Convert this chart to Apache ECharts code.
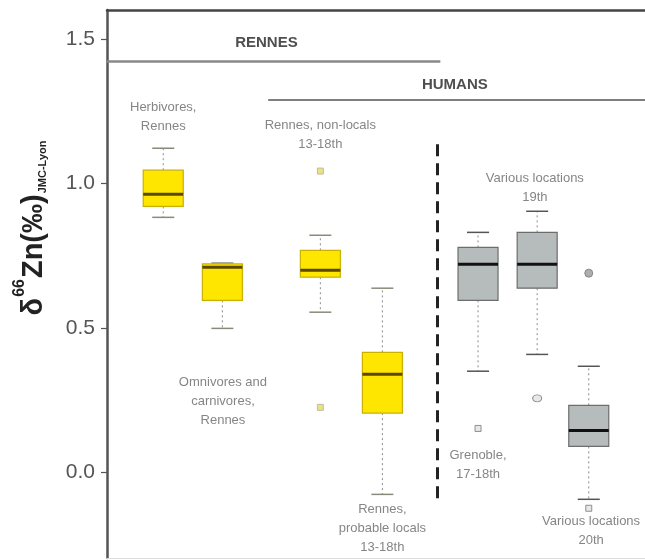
<!DOCTYPE html>
<html><head><meta charset="utf-8">
<script src="https://cdn.jsdelivr.net/npm/echarts@6/dist/echarts.min.js"></script>
<style>html,body{margin:0;padding:0;background:#fff}#c{width:645px;height:560px}</style>
</head><body><div id="c"></div>
<script>
// ---- data ----
const groupNames = ['Herbivores,\nRennes', 'Omnivores and\ncarnivores,\nRennes', 'Rennes, non-locals\n13-18th', 'Rennes,\nprobable locals\n13-18th', 'Grenoble,\n17-18th', 'Various locations\n19th', 'Various locations\n20th'];
const groupKind = ['RENNES', 'RENNES', 'RENNES', 'RENNES', 'HUMANS', 'HUMANS', 'HUMANS'];
const groupPos = [1.0, 2.02, 3.71, 4.78, 6.43, 7.45, 8.34];
const lowerWhisker = [0.883, 0.499, 0.555, -0.075, 0.351, 0.409, -0.092];
const q1 = [0.921, 0.596, 0.676, 0.206, 0.596, 0.638, 0.091];
const median = [0.963, 0.710, 0.700, 0.340, 0.721, 0.721, 0.146];
const q3 = [1.046, 0.722, 0.769, 0.416, 0.779, 0.831, 0.233];
const upperWhisker = [1.122, 0.725, 0.821, 0.638, 0.831, 0.904, 0.368];
const outlierGroup = [2, 2, 4, 5, 6, 6];
const outlierValue = [1.043, 0.226, 0.153, 0.257, 0.690, -0.123];
// annotation label anchors (axis units)
const labelX = [1.0, 2.03, 3.71, 4.78, 6.43, 7.41, 8.38];
const labelY = [1.229, 0.247, 1.169, -0.193, 0.027, 0.985, -0.201];
const yTicks = [0, 0.5, 1.0, 1.5];
const sectionTitles = ['RENNES', 'HUMANS'];
const sectionTitleX = [2.78, 6.03];
const sectionTitleY = [1.485, 1.34];

const chart = echarts.init(document.getElementById('c'));
const boxData = groupPos.map((p, i) => [p, lowerWhisker[i], q1[i], median[i], q3[i], upperWhisker[i], i]);
const BOX_W = 0.69, CAP_W = 0.38;
const styles = {
  RENNES: {fill: '#ffe600', border: '#c9b100', med: '#5a4800', cap: '#8a8a7a'},
  HUMANS: {fill: '#b6bbbb', border: '#6d6d6d', med: '#111', cap: '#555'}
};
function renderBox(params, api) {
  const x = api.value(0), gi = api.value(6);
  const st = styles[groupKind[gi]];
  const pl = api.coord([x, api.value(1)]), p1 = api.coord([x, api.value(2)]),
        pm = api.coord([x, api.value(3)]), p3 = api.coord([x, api.value(4)]),
        ph = api.coord([x, api.value(5)]);
  const hw = api.size([BOX_W, 0])[0] / 2, hc = api.size([CAP_W, 0])[0] / 2;
  const cx = pl[0];
  const wh = {stroke: '#8a8a8a', lineWidth: 1, lineDash: [2, 3]};
  return {type: 'group', children: [
    {type: 'line', shape: {x1: cx, y1: p3[1], x2: cx, y2: ph[1]}, style: wh},
    {type: 'line', shape: {x1: cx, y1: p1[1], x2: cx, y2: pl[1]}, style: wh},
    {type: 'line', shape: {x1: cx - hc, y1: ph[1], x2: cx + hc, y2: ph[1]}, style: {stroke: st.cap, lineWidth: 1.5}},
    {type: 'line', shape: {x1: cx - hc, y1: pl[1], x2: cx + hc, y2: pl[1]}, style: {stroke: st.cap, lineWidth: 1.5}},
    {type: 'rect', shape: {x: cx - hw, y: p3[1], width: 2 * hw, height: p1[1] - p3[1]}, style: {fill: st.fill, stroke: st.border, lineWidth: 1.2}},
    {type: 'line', shape: {x1: cx - hw, y1: pm[1], x2: cx + hw, y2: pm[1]}, style: {stroke: st.med, lineWidth: 3}}
  ]};
}
const outlierData = outlierGroup.map((g, i) => {
  const human = groupKind[g] === 'HUMANS';
  const filled = human && outlierValue[i] > q3[g] && outlierValue[i] > upperWhisker[g];
  return {
    value: [groupPos[g], outlierValue[i]],
    symbol: (g === 5) ? 'circle' : (filled ? 'circle' : 'rect'),
    symbolSize: (g === 5) ? [9, 7] : (filled ? 8 : 6),
    itemStyle: human ? {color: filled ? '#9a9a9a' : '#e2e2e2', borderColor: '#777', borderWidth: 1}
                     : {color: '#e4dc60', borderColor: '#b0b0a0', borderWidth: 1}
  };
});
const labelData = groupNames.map((t, i) => ({value: [labelX[i], labelY[i]], name: t}));
const titleData = sectionTitles.map((t, i) => ({value: [sectionTitleX[i], sectionTitleY[i]], name: t}));

chart.setOption({
  animation: false,
  grid: {left: 107, right: 0, top: 10, bottom: 2},
  xAxis: [
    {type: 'value', min: 0.03, max: 9.31, position: 'top', axisLine: {show: true, onZero: false, lineStyle: {color: '#444', width: 2.5}},
     axisTick: {show: false}, axisLabel: {show: false}, splitLine: {show: false}},
    {type: 'value', min: 0.03, max: 9.31, position: 'bottom', axisLine: {show: true, onZero: false, lineStyle: {color: '#dcdcdc', width: 1}},
     axisTick: {show: false}, axisLabel: {show: false}, splitLine: {show: false}}
  ],
  yAxis: {type: 'value', min: -0.295, max: 1.6,
    axisLine: {show: true, lineStyle: {color: '#555', width: 2.5}},
    axisTick: {show: true, length: 6, customValues: yTicks, lineStyle: {color: '#555', width: 1.2}},
    axisLabel: {customValues: yTicks, formatter: v => v.toFixed(1), fontFamily: 'Liberation Sans', fontSize: 21, color: '#555', margin: 12},
    splitLine: {show: false}},
  graphic: [{
    type: 'text', x: 30, y: 228, rotation: Math.PI / 2,
    style: {text: '{d|δ}{sup|66}{d|Zn(‰)}{sub|JMC-Lyon}', align: 'center', verticalAlign: 'middle',
      rich: {
        d: {fontFamily: 'Liberation Sans', fontWeight: 'bold', fontSize: 29, fill: '#222', lineHeight: 36, verticalAlign: 'bottom'},
        sup: {fontFamily: 'Liberation Sans', fontWeight: 'bold', fontSize: 16, fill: '#222', lineHeight: 36, verticalAlign: 'top', padding: [0, 1, 0, 1]},
        sub: {fontFamily: 'Liberation Sans', fontWeight: 'bold', fontSize: 11, fill: '#222', lineHeight: 36, verticalAlign: 'bottom', padding: [0, 0, 0, 1]}
      }}
  }],
  series: [
    {type: 'custom', xAxisIndex: 0, renderItem: renderBox, data: boxData, z: 3},
    {type: 'scatter', xAxisIndex: 0, data: outlierData, z: 4},
    {type: 'scatter', xAxisIndex: 0, data: labelData, symbolSize: 0, z: 5,
      label: {show: true, position: 'inside', formatter: p => p.name, fontFamily: 'Liberation Sans', fontSize: 13, color: '#666', lineHeight: 19, align: 'center'}},
    {type: 'scatter', xAxisIndex: 0, data: titleData, symbolSize: 0, z: 5,
      label: {show: true, position: 'inside', formatter: p => p.name, fontFamily: 'Liberation Sans', fontWeight: 'bold', fontSize: 15, color: '#222'},
      markLine: {silent: true, symbol: 'none', label: {show: false}, data: [
        [{coord: [0.03, 1.423], lineStyle: {color: '#888', width: 2.5, type: 'solid'}}, {coord: [5.78, 1.423]}],
        [{coord: [2.81, 1.288], lineStyle: {color: '#555', width: 1.5, type: 'solid'}}, {coord: [9.31, 1.288]}],
        [{coord: [5.73, 1.136], lineStyle: {color: '#222', width: 3, type: [12, 7]}}, {coord: [5.73, -0.113]}]
      ]}}
  ]
});
</script></body></html>
